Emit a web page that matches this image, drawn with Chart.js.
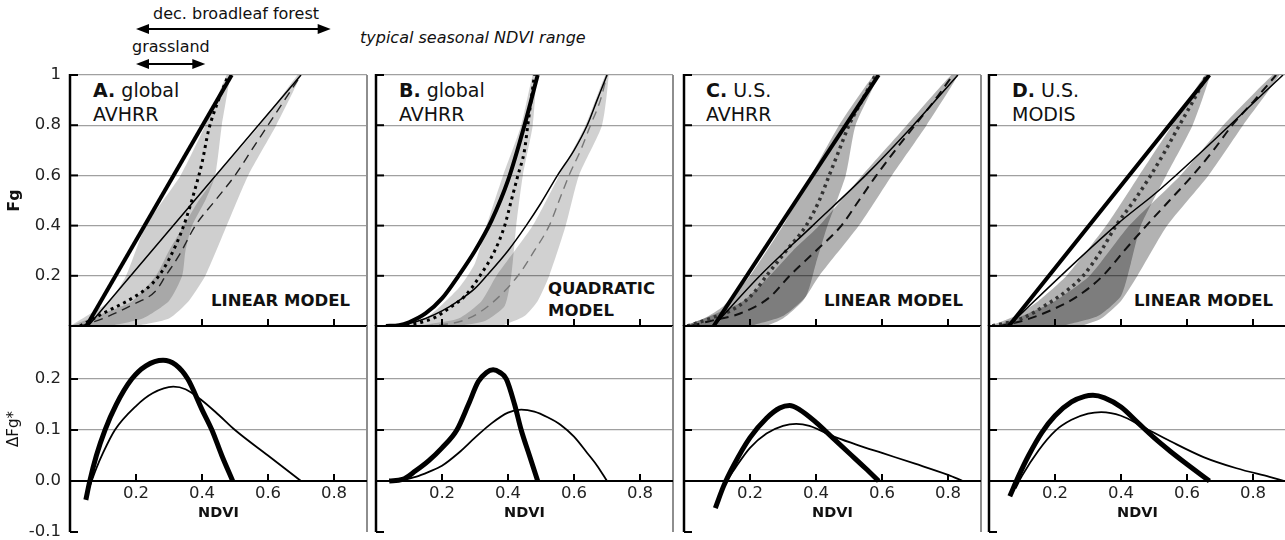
<!DOCTYPE html>
<html>
<head>
<meta charset="utf-8">
<script src="https://cdn.jsdelivr.net/npm/chart.js@4.4.1/dist/chart.umd.min.js"></script>
<style>
  html, body { margin: 0; padding: 0; background: #fff; width: 1285px; height: 540px; overflow: hidden; }
  body { position: relative; font-family: "DejaVu Sans", sans-serif; color: #111; }
  canvas { position: absolute; }
  .t { position: absolute; white-space: nowrap; line-height: 1; }
  .lab { position: absolute; white-space: nowrap; font-size: 19px; line-height: 24px; }
  .mdl { position: absolute; white-space: nowrap; font-size: 16.5px; font-weight: bold; line-height: 1; }
</style>
</head>
<body>
<div class="t" style="left:153px;top:6px;font-size:16px">dec. broadleaf forest</div>
<div class="t" style="left:132px;top:39px;font-size:16px">grassland</div>
<div class="t" style="left:360px;top:30px;font-size:16px;font-style:italic">typical seasonal NDVI range</div>

<div class="lab" style="left:93px;top:78px"><b>A.</b> global<br>AVHRR</div>
<div class="lab" style="left:399px;top:78px"><b>B.</b> global<br>AVHRR</div>
<div class="lab" style="left:706px;top:78px"><b>C.</b> U.S.<br>AVHRR</div>
<div class="lab" style="left:1012px;top:78px"><b>D.</b> U.S.<br>MODIS</div>

<div class="mdl" style="right:935px;top:293px">LINEAR MODEL</div>
<div class="mdl" style="left:548px;top:278px;line-height:22px">QUADRATIC<br>MODEL</div>
<div class="mdl" style="right:322px;top:293px">LINEAR MODEL</div>
<div class="mdl" style="right:12px;top:293px">LINEAR MODEL</div>

<script>
Chart.defaults.font.family = '"DejaVu Sans", sans-serif';
Chart.defaults.color = '#111';

// axes
const ndviTicks = [0.2, 0.4, 0.6, 0.8];
const fgTicks = [0.2, 0.4, 0.6, 0.8, 1];
const dFgTicks = [-0.1, 0, 0.1, 0.2];
const forestRange = [0.2, 0.79];
const grassRange = [0.2, 0.41];

// A. global AVHRR, linear model  [NDVI, Fg]
const aThick = [[0.05, 0], [0.49, 1]];
const aThin = [[0.055, 0], [0.70, 1]];
const aDot = [[0.03, 0], [0.1, 0.05], [0.2, 0.12], [0.25, 0.17], [0.28, 0.22], [0.32, 0.32], [0.35, 0.42], [0.38, 0.55], [0.4, 0.65], [0.42, 0.78], [0.45, 0.9], [0.48, 1]];
const aDash = [[0.03, 0], [0.1, 0.03], [0.19, 0.085], [0.26, 0.14], [0.29, 0.2], [0.33, 0.28], [0.38, 0.4], [0.44, 0.5], [0.5, 0.6], [0.55, 0.7], [0.6, 0.8], [0.65, 0.9], [0.7, 1]];
const aBandDot = [[0.0, 0], [0.05, 0.04], [0.12, 0.1], [0.17, 0.2], [0.23, 0.4], [0.335, 0.6], [0.41, 0.8], [0.475, 1], [0.485, 1], [0.46, 0.8], [0.44, 0.6], [0.41, 0.5], [0.37, 0.4], [0.35, 0.3], [0.34, 0.2], [0.3, 0.1], [0.22, 0.03], [0.12, 0]];
const aBandDash = [[0.0, 0], [0.1, 0.05], [0.19, 0.1], [0.26, 0.2], [0.3, 0.3], [0.345, 0.4], [0.39, 0.5], [0.445, 0.6], [0.575, 0.8], [0.69, 1], [0.70, 1], [0.625, 0.8], [0.54, 0.6], [0.475, 0.4], [0.41, 0.2], [0.36, 0.1], [0.3, 0.03], [0.2, 0]];
const aDThick = [[0.048, -0.037], [0.06, 0], [0.08, 0.05], [0.106, 0.1], [0.14, 0.15], [0.187, 0.2], [0.23, 0.226], [0.282, 0.237], [0.32, 0.228], [0.357, 0.2], [0.4, 0.14], [0.43, 0.1], [0.46, 0.05], [0.493, 0]];
const aDThin = [[0.06, -0.01], [0.08, 0.025], [0.1, 0.055], [0.136, 0.1], [0.2, 0.147], [0.25, 0.172], [0.313, 0.185], [0.35, 0.18], [0.4, 0.158], [0.45, 0.13], [0.5, 0.1], [0.6, 0.05], [0.7, 0]];

// B. global AVHRR, quadratic model
const bThick = [[0.03, 0], [0.07, 0.003], [0.1, 0.015], [0.15, 0.05], [0.2, 0.11], [0.25, 0.2], [0.3, 0.3], [0.35, 0.42], [0.4, 0.58], [0.45, 0.8], [0.49, 1]];
const bThin = [[0.05, 0], [0.1, 0.01], [0.15, 0.03], [0.2, 0.06], [0.25, 0.1], [0.3, 0.15], [0.335, 0.2], [0.4, 0.3], [0.455, 0.4], [0.5, 0.49], [0.55, 0.6], [0.6, 0.7], [0.64, 0.8], [0.67, 0.9], [0.7, 1]];
const bDot = [[0.05, 0], [0.12, 0.01], [0.18, 0.035], [0.22, 0.07], [0.27, 0.12], [0.315, 0.2], [0.36, 0.3], [0.39, 0.4], [0.41, 0.5], [0.43, 0.6], [0.45, 0.7], [0.46, 0.8], [0.47, 0.9], [0.48, 1]];
const bDash = [[0.1, 0], [0.2, 0.005], [0.28, 0.03], [0.35, 0.09], [0.43, 0.2], [0.48, 0.3], [0.525, 0.4], [0.555, 0.5], [0.585, 0.6], [0.62, 0.7], [0.65, 0.8], [0.68, 0.9], [0.7, 1]];
const bBandDot = [[0.05, 0], [0.15, 0.03], [0.25, 0.15], [0.3, 0.25], [0.335, 0.4], [0.385, 0.6], [0.44, 0.8], [0.475, 1], [0.485, 1], [0.475, 0.8], [0.445, 0.6], [0.425, 0.4], [0.41, 0.2], [0.39, 0.08], [0.33, 0.02], [0.25, 0]];
const bBandDash = [[0.12, 0], [0.25, 0.03], [0.32, 0.1], [0.365, 0.2], [0.475, 0.4], [0.555, 0.6], [0.635, 0.8], [0.695, 1], [0.705, 1], [0.685, 0.8], [0.615, 0.6], [0.575, 0.4], [0.525, 0.2], [0.49, 0.1], [0.45, 0.04], [0.38, 0]];
const bDThick = [[0.04, 0], [0.08, 0.003], [0.12, 0.02], [0.16, 0.04], [0.2, 0.065], [0.245, 0.1], [0.28, 0.15], [0.31, 0.195], [0.335, 0.213], [0.355, 0.218], [0.375, 0.213], [0.395, 0.2], [0.42, 0.15], [0.44, 0.1], [0.465, 0.05], [0.49, 0]];
const bDThin = [[0.07, 0], [0.12, 0.008], [0.16, 0.018], [0.2, 0.03], [0.25, 0.055], [0.3, 0.085], [0.35, 0.113], [0.4, 0.134], [0.44, 0.14], [0.48, 0.136], [0.52, 0.125], [0.56, 0.11], [0.6, 0.087], [0.64, 0.055], [0.67, 0.03], [0.7, 0]];

// C. U.S. AVHRR, linear model
const cThick = [[0.09, 0], [0.59, 1]];
const cThin = [[0.09, 0], [0.23, 0.2], [0.39, 0.4], [0.55, 0.6], [0.695, 0.8], [0.83, 1]];
const cDot = [[0.01, 0], [0.08, 0.03], [0.16, 0.075], [0.21, 0.13], [0.25, 0.2], [0.31, 0.3], [0.37, 0.4], [0.41, 0.5], [0.44, 0.6], [0.47, 0.7], [0.5, 0.8], [0.54, 0.9], [0.58, 1]];
const cDash = [[0.02, 0], [0.08, 0.02], [0.17, 0.05], [0.26, 0.115], [0.32, 0.2], [0.4, 0.3], [0.477, 0.4], [0.53, 0.5], [0.583, 0.6], [0.64, 0.7], [0.7, 0.8], [0.76, 0.9], [0.815, 1]];
const cBandDot = [[0.0, 0], [0.06, 0.03], [0.12, 0.08], [0.2, 0.2], [0.3, 0.4], [0.385, 0.6], [0.47, 0.8], [0.575, 1], [0.59, 1], [0.52, 0.8], [0.49, 0.6], [0.435, 0.4], [0.4, 0.25], [0.37, 0.12], [0.3, 0.04], [0.2, 0]];
const cBandDash = [[0.0, 0], [0.08, 0.04], [0.18, 0.1], [0.26, 0.2], [0.33, 0.3], [0.41, 0.4], [0.54, 0.6], [0.675, 0.8], [0.81, 1], [0.83, 1], [0.735, 0.8], [0.63, 0.6], [0.53, 0.4], [0.41, 0.2], [0.36, 0.1], [0.3, 0.03], [0.25, 0]];
const cDThick = [[0.095, -0.053], [0.12, -0.01], [0.15, 0.03], [0.2, 0.085], [0.25, 0.123], [0.29, 0.143], [0.32, 0.148], [0.35, 0.14], [0.4, 0.115], [0.45, 0.085], [0.5, 0.055], [0.55, 0.025], [0.59, 0]];
const cDThin = [[0.1, -0.04], [0.13, 0], [0.16, 0.03], [0.2, 0.065], [0.25, 0.093], [0.3, 0.108], [0.34, 0.112], [0.38, 0.108], [0.45, 0.088], [0.52, 0.072], [0.6, 0.055], [0.7, 0.034], [0.8, 0.012], [0.845, 0]];

// D. U.S. MODIS, linear model
const dThick = [[0.06, 0], [0.668, 1]];
const dThin = [[0.06, 0], [0.114, 0.07], [0.387, 0.404], [0.518, 0.544], [0.891, 1]];
const dDot = [[0.01, 0], [0.1, 0.03], [0.18, 0.09], [0.235, 0.14], [0.285, 0.2], [0.34, 0.3], [0.385, 0.4], [0.44, 0.5], [0.49, 0.6], [0.535, 0.7], [0.577, 0.8], [0.62, 0.9], [0.66, 1]];
const dDash = [[0.03, 0], [0.1, 0.02], [0.2, 0.07], [0.27, 0.12], [0.345, 0.2], [0.41, 0.3], [0.477, 0.4], [0.547, 0.5], [0.617, 0.6], [0.68, 0.7], [0.737, 0.8], [0.805, 0.9], [0.87, 1]];
const dBandDot = [[0.0, 0], [0.08, 0.04], [0.15, 0.1], [0.235, 0.2], [0.355, 0.4], [0.455, 0.6], [0.555, 0.8], [0.655, 1], [0.67, 1], [0.617, 0.8], [0.537, 0.6], [0.46, 0.4], [0.43, 0.25], [0.4, 0.12], [0.33, 0.04], [0.22, 0]];
const dBandDash = [[0.02, 0], [0.1, 0.04], [0.2, 0.1], [0.305, 0.2], [0.425, 0.4], [0.58, 0.6], [0.71, 0.8], [0.86, 1], [0.88, 1], [0.77, 0.8], [0.665, 0.6], [0.54, 0.4], [0.45, 0.2], [0.4, 0.1], [0.34, 0.03], [0.28, 0]];
const dDThick = [[0.063, -0.03], [0.09, 0.01], [0.12, 0.05], [0.16, 0.095], [0.2, 0.128], [0.25, 0.155], [0.29, 0.166], [0.315, 0.168], [0.35, 0.163], [0.4, 0.145], [0.45, 0.115], [0.5, 0.085], [0.55, 0.058], [0.6, 0.033], [0.668, 0]];
const dDThin = [[0.08, -0.015], [0.1, 0.01], [0.15, 0.06], [0.2, 0.098], [0.25, 0.12], [0.3, 0.132], [0.34, 0.135], [0.4, 0.128], [0.47, 0.105], [0.55, 0.078], [0.65, 0.047], [0.75, 0.025], [0.85, 0.008], [0.895, 0]];

const panels = [
  { left: 70, thick: aThick, thin: aThin, dot: aDot, dash: aDash, bands: [aBandDot, aBandDash], dThick: aDThick, dThin: aDThin,
    shade: 'rgba(0,0,0,0.19)', dashColor: '#222', dashWidth: 1.4, dotColor: '#000', dotWidth: 3 },
  { left: 376, thick: bThick, thin: bThin, dot: bDot, dash: bDash, bands: [bBandDot, bBandDash], dThick: bDThick, dThin: bDThin,
    shade: 'rgba(0,0,0,0.18)', dashColor: '#777', dashWidth: 1.4, dotColor: '#000', dotWidth: 3 },
  { left: 684, thick: cThick, thin: cThin, dot: cDot, dash: cDash, bands: [cBandDot, cBandDash], dThick: cDThick, dThin: cDThin,
    shade: 'rgba(0,0,0,0.3)', dashColor: '#111', dashWidth: 2, dotColor: '#333', dotWidth: 3.5 },
  { left: 989, thick: dThick, thin: dThin, dot: dDot, dash: dDash, bands: [dBandDot, dBandDash], dThick: dDThick, dThin: dDThin,
    shade: 'rgba(0,0,0,0.3)', dashColor: '#111', dashWidth: 2, dotColor: '#333', dotWidth: 3.5 },
];

const plotW = 297;
const toXY = arr => arr.map(([x, y]) => ({ x, y }));

const lineSet = (arr, w, color, dash) => ({
  data: toXY(arr), showLine: true, borderColor: color, borderWidth: w, borderDash: dash || [],
  borderCapStyle: 'butt', pointRadius: 0, fill: false, cubicInterpolationMode: 'monotone',
});
const bandSet = (arr, shade) => ({
  data: toXY(arr), showLine: true, borderWidth: 0, borderColor: 'rgba(0,0,0,0)', backgroundColor: shade,
  pointRadius: 0, fill: 'shape', tension: 0.2,
});

// axis lines and inward tick marks
const frame = {
  id: 'frame',
  afterDatasetsDraw(chart, args, o) {
    const { ctx, chartArea: a, scales: { x, y } } = chart;
    const seg = (x1, y1, x2, y2, w, c) => {
      ctx.beginPath(); ctx.lineWidth = w; ctx.strokeStyle = c;
      ctx.moveTo(x1, y1); ctx.lineTo(x2, y2); ctx.stroke();
    };
    ctx.save();
    seg(a.right, a.top, a.right, a.bottom, 2, '#8e8e8e');
    const y0 = y.getPixelForValue(0);
    seg(a.left, y0, a.right, y0, 2, '#000');
    seg(a.left, a.top - 1, a.left, a.bottom, 2.5, '#000');
    o.yTicks.forEach(v => {
      const py = y.getPixelForValue(v);
      seg(a.left, py, a.left + 8, py, 2, '#000');
    });
    ndviTicks.forEach(v => {
      const px = x.getPixelForValue(v);
      seg(px, y0, px, y0 - 7, 2, '#000');
    });
    ctx.restore();
  }
};

// range arrows above panel A
const arrows = {
  id: 'arrows',
  afterDraw(chart) {
    const { ctx, scales: { x } } = chart;
    ctx.save();
    ctx.fillStyle = '#000'; ctx.strokeStyle = '#000'; ctx.lineWidth = 2;
    [[forestRange, 29], [grassRange, 64]].forEach(([r, py]) => {
      const x1 = x.getPixelForValue(r[0]), x2 = x.getPixelForValue(r[1]);
      ctx.beginPath(); ctx.moveTo(x1 + 8, py); ctx.lineTo(x2 - 8, py); ctx.stroke();
      ctx.beginPath(); ctx.moveTo(x1, py); ctx.lineTo(x1 + 13, py - 5); ctx.lineTo(x1 + 13, py + 5); ctx.closePath(); ctx.fill();
      ctx.beginPath(); ctx.moveTo(x2, py); ctx.lineTo(x2 - 13, py - 5); ctx.lineTo(x2 - 13, py + 5); ctx.closePath(); ctx.fill();
    });
    ctx.restore();
  }
};

function addCanvas(left, top, w, h) {
  const c = document.createElement('canvas');
  c.width = w; c.height = h;
  c.style.left = left + 'px'; c.style.top = top + 'px';
  document.body.appendChild(c);
  return c;
}

const tickFont = { size: 16.5 };

panels.forEach((p, i) => {
  const first = i === 0;
  const yW = first ? 70 : 0;
  const padL = first ? 0 : 6;
  const cw = padL + yW + plotW + 6;
  const cl = p.left - padL - yW;
  const fitY = s => { s.width = yW; s.paddingTop = 0; s.paddingBottom = 0; };

  // upper panel: Fg
  new Chart(addCanvas(cl, 0, cw, 332), {
    type: 'scatter',
    data: {
      datasets: [
        lineSet(p.thick, 4, '#000'),
        lineSet(p.thin, 1.5, '#000'),
        lineSet(p.dot, p.dotWidth, p.dotColor, [3, 4]),
        lineSet(p.dash, p.dashWidth, p.dashColor, [9, 6]),
        bandSet(p.bands[0], p.shade),
        bandSet(p.bands[1], p.shade),
      ]
    },
    options: {
      responsive: false, animation: false, devicePixelRatio: 1,
      layout: { padding: { left: padL, right: 6, top: 75, bottom: 6 } },
      plugins: { legend: { display: false }, tooltip: { enabled: false }, frame: { yTicks: fgTicks } },
      scales: {
        x: { type: 'linear', min: 0, max: 0.9, display: false },
        y: {
          type: 'linear', min: 0, max: 1,
          afterBuildTicks: s => { s.ticks = fgTicks.map(v => ({ value: v })); },
          afterFit: fitY,
          border: { display: false },
          grid: { color: '#a0a0a0', lineWidth: 1.3, drawTicks: false },
          ticks: { display: first, padding: 9, font: tickFont, color: '#222',
                   callback: v => (v === 1 ? '1' : v.toFixed(1)) },
          title: { display: first, text: 'Fg', font: { size: 16, weight: 'bold' }, padding: { top: 5, bottom: 0 } },
        }
      }
    },
    plugins: first ? [frame, arrows] : [frame]
  });

  // lower panel: delta Fg*
  new Chart(addCanvas(cl, 320, cw, 218), {
    type: 'scatter',
    data: {
      datasets: [
        lineSet(p.dThick, 5, '#000'),
        lineSet(p.dThin, 1.8, '#000'),
      ]
    },
    options: {
      responsive: false, animation: false, devicePixelRatio: 1,
      layout: { padding: { left: padL, right: 6, top: 6, bottom: 6 } },
      plugins: { legend: { display: false }, tooltip: { enabled: false }, frame: { yTicks: dFgTicks } },
      scales: {
        x: {
          type: 'linear', min: 0, max: 0.9, position: { y: 0 },
          afterBuildTicks: s => { s.ticks = ndviTicks.map(v => ({ value: v })); },
          afterFit: s => { s.height = 41; s.paddingLeft = 0; s.paddingRight = 0; },
          border: { display: false },
          grid: { display: false, drawTicks: false },
          ticks: { padding: 3, font: tickFont, color: '#222', maxRotation: 0, callback: v => v.toFixed(1) },
          title: { display: true, text: 'NDVI', font: { size: 14.5, weight: 'bold' }, padding: 0 },
        },
        y: {
          type: 'linear', min: -0.1, max: 0.304,
          afterBuildTicks: s => { s.ticks = dFgTicks.map(v => ({ value: v })); },
          afterFit: fitY,
          border: { display: false },
          grid: { color: c => (c.tick && c.tick.value > 0.05 ? '#a0a0a0' : 'rgba(0,0,0,0)'), lineWidth: 1.3, drawTicks: false },
          ticks: { display: first, padding: 9, font: tickFont, color: '#222', callback: v => v.toFixed(1) },
          title: { display: first, text: 'ΔFg*', font: { size: 15 }, padding: { top: 5, bottom: 0 } },
        }
      }
    },
    plugins: [frame]
  });
});
</script>
</body>
</html>
